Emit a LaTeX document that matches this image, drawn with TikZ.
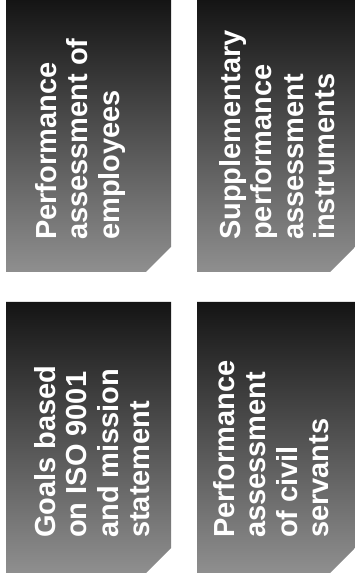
\documentclass[tikz,border=0pt]{standalone}
\usepackage{fontspec}
\setmainfont{Liberation Sans}
\usetikzlibrary{positioning}
\definecolor{paneldark}{gray}{0.08}
\definecolor{panellight}{gray}{0.56}

\begin{document}
\begin{tikzpicture}[
  x=1pt, y=1pt,
  panel/.style={minimum width=165pt, minimum height=272pt, inner sep=0pt, outer sep=0pt},
  paneltext/.style={rotate=90, anchor=north west, align=left, text=white, inner sep=0pt,
    font=\bfseries\fontsize{29}{31.5}\selectfont}
]
\useasboundingbox (0,0) rectangle (355,575);

\node[panel, anchor=north west] (perf) at (6,575) {};
\node[panel, minimum width=158pt, right=26pt of perf] (supp) {};
\node[panel, minimum height=271pt, below=30pt of perf] (goals) {};
\node[panel, minimum width=158pt, minimum height=271pt, below=30pt of supp] (civil) {};

\foreach \b in {perf,supp,goals,civil}
  \shade[top color=paneldark, bottom color=panellight]
    (\b.north west) -- (\b.north east) -- ([yshift=25pt]\b.south east)
    -- ([xshift=-25pt]\b.south east) -- (\b.south west) -- cycle;

\node[paneltext] (perftxt) at ([xshift=29pt, yshift=32pt]perf.south west) {Performance\\assessment of\\employees};
\node[paneltext] (supptxt) at ([xshift=22pt, yshift=32pt]supp.south west) {Supplementary\\performance\\assessment\\instruments};
\node[paneltext] (goalstxt) at ([xshift=28pt, yshift=35pt]goals.south west) {Goals based\\on ISO 9001\\and mission\\statement};
\node[paneltext] (civiltxt) at ([xshift=16pt, yshift=35pt]civil.south west) {Performance\\assessment\\of civil\\servants};
\end{tikzpicture}
\end{document}
